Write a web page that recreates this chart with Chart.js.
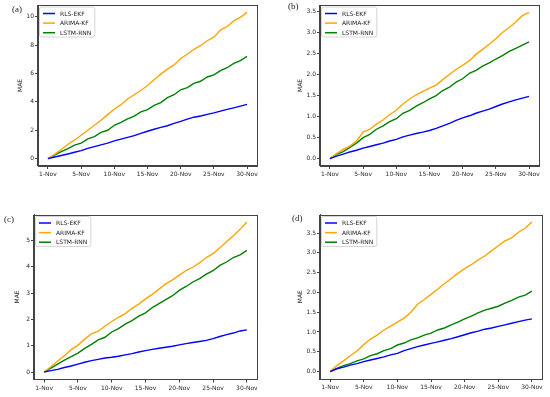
<!DOCTYPE html>
<html>
<head>
<meta charset="utf-8">
<script src="https://cdn.jsdelivr.net/npm/chart.js@4.4.1/dist/chart.umd.min.js"></script>
<style>
  body { margin: 0; background: #fff; width: 550px; height: 397px; position: relative; overflow: hidden; }
  canvas { position: absolute; }
  .tag { position: absolute; font-family: 'Liberation Serif', serif; font-size: 9px; color: #222; line-height: 1; }
</style>
</head>
<body>
<canvas id="chartA" width="262" height="185" style="left:0;top:0"></canvas>
<canvas id="chartB" width="265" height="185" style="left:280px;top:0"></canvas>
<canvas id="chartC" width="262" height="197" style="left:0;top:200px"></canvas>
<canvas id="chartD" width="267" height="197" style="left:280px;top:200px"></canvas>
<span class="tag" style="left:12px;top:5px">(a)</span>
<span class="tag" style="left:288px;top:2px">(b)</span>
<span class="tag" style="left:4px;top:215px">(c)</span>
<span class="tag" style="left:292px;top:214px">(d)</span>
<script>
const tickLabels = ['1-Nov', '5-Nov', '10-Nov', '15-Nov', '20-Nov', '25-Nov', '30-Nov'];
const seriesNames = ['RLS-EKF', 'ARIMA-KF', 'LSTM-RNN'];
const seriesColors = ['blue', 'orange', 'green'];

// (a)
const rlsA = [0, 0.12, 0.22, 0.33, 0.45, 0.57, 0.72, 0.85, 0.97, 1.1, 1.25, 1.38, 1.5, 1.62, 1.78, 1.93, 2.07, 2.2, 2.32, 2.48, 2.62, 2.78, 2.92, 3.0, 3.12, 3.22, 3.35, 3.47, 3.58, 3.7, 3.82];
const arimaA = [0, 0.3, 0.65, 1.0, 1.3, 1.65, 2.0, 2.35, 2.7, 3.1, 3.5, 3.8, 4.2, 4.5, 4.8, 5.15, 5.55, 5.95, 6.3, 6.6, 7.05, 7.35, 7.7, 7.95, 8.3, 8.55, 9.05, 9.3, 9.7, 9.95, 10.3];
const lstmA = [0, 0.25, 0.5, 0.7, 0.95, 1.1, 1.4, 1.55, 1.85, 2.0, 2.35, 2.55, 2.8, 3.0, 3.3, 3.45, 3.75, 3.95, 4.3, 4.5, 4.85, 5.0, 5.3, 5.45, 5.75, 5.9, 6.2, 6.4, 6.7, 6.9, 7.2];

// (b)
const rlsB = [0, 0.06, 0.11, 0.16, 0.2, 0.25, 0.29, 0.33, 0.37, 0.42, 0.46, 0.52, 0.56, 0.6, 0.63, 0.67, 0.72, 0.78, 0.84, 0.91, 0.97, 1.02, 1.08, 1.13, 1.18, 1.24, 1.3, 1.35, 1.4, 1.44, 1.48];
const arimaB = [0, 0.12, 0.22, 0.3, 0.42, 0.63, 0.7, 0.82, 0.92, 1.05, 1.15, 1.3, 1.42, 1.52, 1.6, 1.68, 1.75, 1.88, 2.0, 2.12, 2.22, 2.33, 2.48, 2.6, 2.72, 2.85, 3.0, 3.12, 3.25, 3.4, 3.48];
const lstmB = [0, 0.1, 0.17, 0.27, 0.37, 0.5, 0.58, 0.7, 0.78, 0.88, 0.95, 1.08, 1.15, 1.25, 1.33, 1.42, 1.5, 1.62, 1.7, 1.82, 1.9, 2.03, 2.1, 2.2, 2.28, 2.37, 2.45, 2.55, 2.62, 2.7, 2.78];

// (c)
const rlsC = [0, 0.05, 0.1, 0.17, 0.23, 0.3, 0.37, 0.43, 0.48, 0.53, 0.56, 0.6, 0.65, 0.7, 0.76, 0.81, 0.86, 0.9, 0.94, 0.98, 1.03, 1.08, 1.12, 1.16, 1.2, 1.27, 1.35, 1.42, 1.48, 1.56, 1.6];
const arimaC = [0, 0.2, 0.42, 0.62, 0.85, 1.02, 1.25, 1.45, 1.55, 1.75, 1.92, 2.08, 2.22, 2.42, 2.58, 2.78, 2.95, 3.15, 3.35, 3.5, 3.68, 3.85, 3.98, 4.15, 4.35, 4.5, 4.72, 4.95, 5.18, 5.42, 5.7];
const lstmC = [0, 0.15, 0.3, 0.45, 0.58, 0.72, 0.9, 1.05, 1.22, 1.32, 1.52, 1.65, 1.82, 1.95, 2.12, 2.25, 2.45, 2.6, 2.75, 2.9, 3.1, 3.25, 3.42, 3.55, 3.72, 3.85, 4.05, 4.18, 4.35, 4.45, 4.62];

// (d)
const rlsD = [0, 0.07, 0.11, 0.16, 0.2, 0.25, 0.29, 0.33, 0.37, 0.42, 0.46, 0.53, 0.58, 0.63, 0.67, 0.71, 0.75, 0.79, 0.83, 0.88, 0.93, 0.98, 1.02, 1.07, 1.1, 1.14, 1.18, 1.22, 1.26, 1.3, 1.33];
const arimaD = [0, 0.15, 0.27, 0.4, 0.52, 0.68, 0.82, 0.92, 1.05, 1.15, 1.25, 1.35, 1.5, 1.7, 1.82, 1.95, 2.08, 2.22, 2.35, 2.48, 2.6, 2.7, 2.82, 2.92, 3.05, 3.18, 3.3, 3.38, 3.52, 3.62, 3.78];
const lstmD = [0, 0.08, 0.15, 0.2, 0.27, 0.32, 0.4, 0.45, 0.53, 0.58, 0.67, 0.72, 0.8, 0.85, 0.92, 0.97, 1.05, 1.1, 1.18, 1.25, 1.33, 1.4, 1.48, 1.55, 1.6, 1.65, 1.73, 1.8, 1.88, 1.93, 2.03];

Chart.defaults.font.family = "'DejaVu Sans', sans-serif";
Chart.defaults.font.size = 6;
Chart.defaults.color = '#2a2a2a';

// spines on all four sides + boxed legend in the upper left
const frameLegend = {
  id: 'frameLegend',
  afterDraw(chart) {
    const { ctx, chartArea: a } = chart;
    ctx.save();
    ctx.strokeStyle = '#444';
    ctx.lineWidth = 1;
    ctx.strokeRect(Math.round(a.left) - 0.5, Math.round(a.top) + 0.5, Math.round(a.right - a.left) + 1, Math.round(a.bottom - a.top) - 1);

    const sets = chart.data.datasets;
    ctx.font = "6px 'DejaVu Sans'";
    const textW = Math.max(...sets.map(d => ctx.measureText(d.label).width));
    const x0 = a.left + 1.5, y0 = a.top + 2;
    const w = textW + 24, h = 30;
    ctx.beginPath();
    ctx.roundRect(x0, y0, w, h, 2);
    ctx.fillStyle = 'rgba(255,255,255,0.8)';
    ctx.fill();
    ctx.strokeStyle = '#ccc';
    ctx.lineWidth = 0.8;
    ctx.stroke();
    sets.forEach((d, i) => {
      const y = y0 + 6.5 + i * 9.6;
      ctx.strokeStyle = d.borderColor;
      ctx.lineWidth = 1.5;
      ctx.beginPath();
      ctx.moveTo(x0 + 3.5, y);
      ctx.lineTo(x0 + 15.5, y);
      ctx.stroke();
      ctx.fillStyle = '#222';
      ctx.textBaseline = 'middle';
      ctx.fillText(d.label, x0 + 20.5, y + 0.5);
    });
    ctx.restore();
  }
};

function makeChart(id, series, cfg) {
  const all = series.flat();
  const lo = Math.min(...all), hi = Math.max(...all);
  const pad = (hi - lo) * 0.05;
  return new Chart(document.getElementById(id), {
    type: 'line',
    data: {
      datasets: series.map((vals, k) => ({
        label: seriesNames[k],
        data: vals.map((v, i) => ({ x: i, y: v })),
        borderColor: seriesColors[k],
        backgroundColor: seriesColors[k],
        borderWidth: 1.4,
        pointRadius: 0,
        tension: 0
      }))
    },
    options: {
      responsive: false,
      animation: false,
      events: [],
      layout: { padding: { top: cfg.top, right: cfg.right, left: 0, bottom: 0 } },
      plugins: { legend: { display: false }, tooltip: { enabled: false } },
      scales: {
        x: {
          type: 'linear',
          min: -1.5,
          max: 31.5,
          afterBuildTicks: s => { s.ticks = tickLabels.map((_, j) => ({ value: j * 5 })); },
          afterFit: s => { s.height = cfg.xh; },
          ticks: { callback: v => tickLabels[v / 5], autoSkip: false, maxRotation: 0, padding: 2 },
          grid: { drawOnChartArea: false, tickLength: 3, color: '#444' },
          border: { color: '#444' }
        },
        y: {
          min: lo - pad,
          max: hi + pad,
          afterBuildTicks: s => {
            const t = [];
            for (let v = Math.ceil(s.min / cfg.step) * cfg.step; v <= s.max + 1e-9; v += cfg.step) {
              t.push({ value: Math.round(v * 1000) / 1000 });
            }
            s.ticks = t;
          },
          afterFit: s => { s.width = cfg.yw; },
          ticks: { callback: v => v.toFixed(cfg.dec), padding: 1 },
          title: { display: true, text: 'MAE', padding: { top: cfg.tp, bottom: 0 } },
          grid: { drawOnChartArea: false, tickLength: 3, color: '#444' },
          border: { color: '#444' }
        }
      }
    },
    plugins: [frameLegend]
  });
}

makeChart('chartA', [rlsA, arimaA, lstmA], { top: 5, right: 5, yw: 38, xh: 19, dec: 0, step: 2, tp: 17 });
makeChart('chartB', [rlsB, arimaB, lstmB], { top: 5, right: 6, yw: 40, xh: 19, dec: 1, step: 0.5, tp: 17 });
makeChart('chartC', [rlsC, arimaC, lstmC], { top: 14.5, right: 5, yw: 34, xh: 17.5, dec: 0, step: 1, tp: 14 });
makeChart('chartD', [rlsD, arimaD, lstmD], { top: 14.5, right: 5, yw: 40, xh: 18, dec: 1, step: 0.5, tp: 17 });
</script>
</body>
</html>
